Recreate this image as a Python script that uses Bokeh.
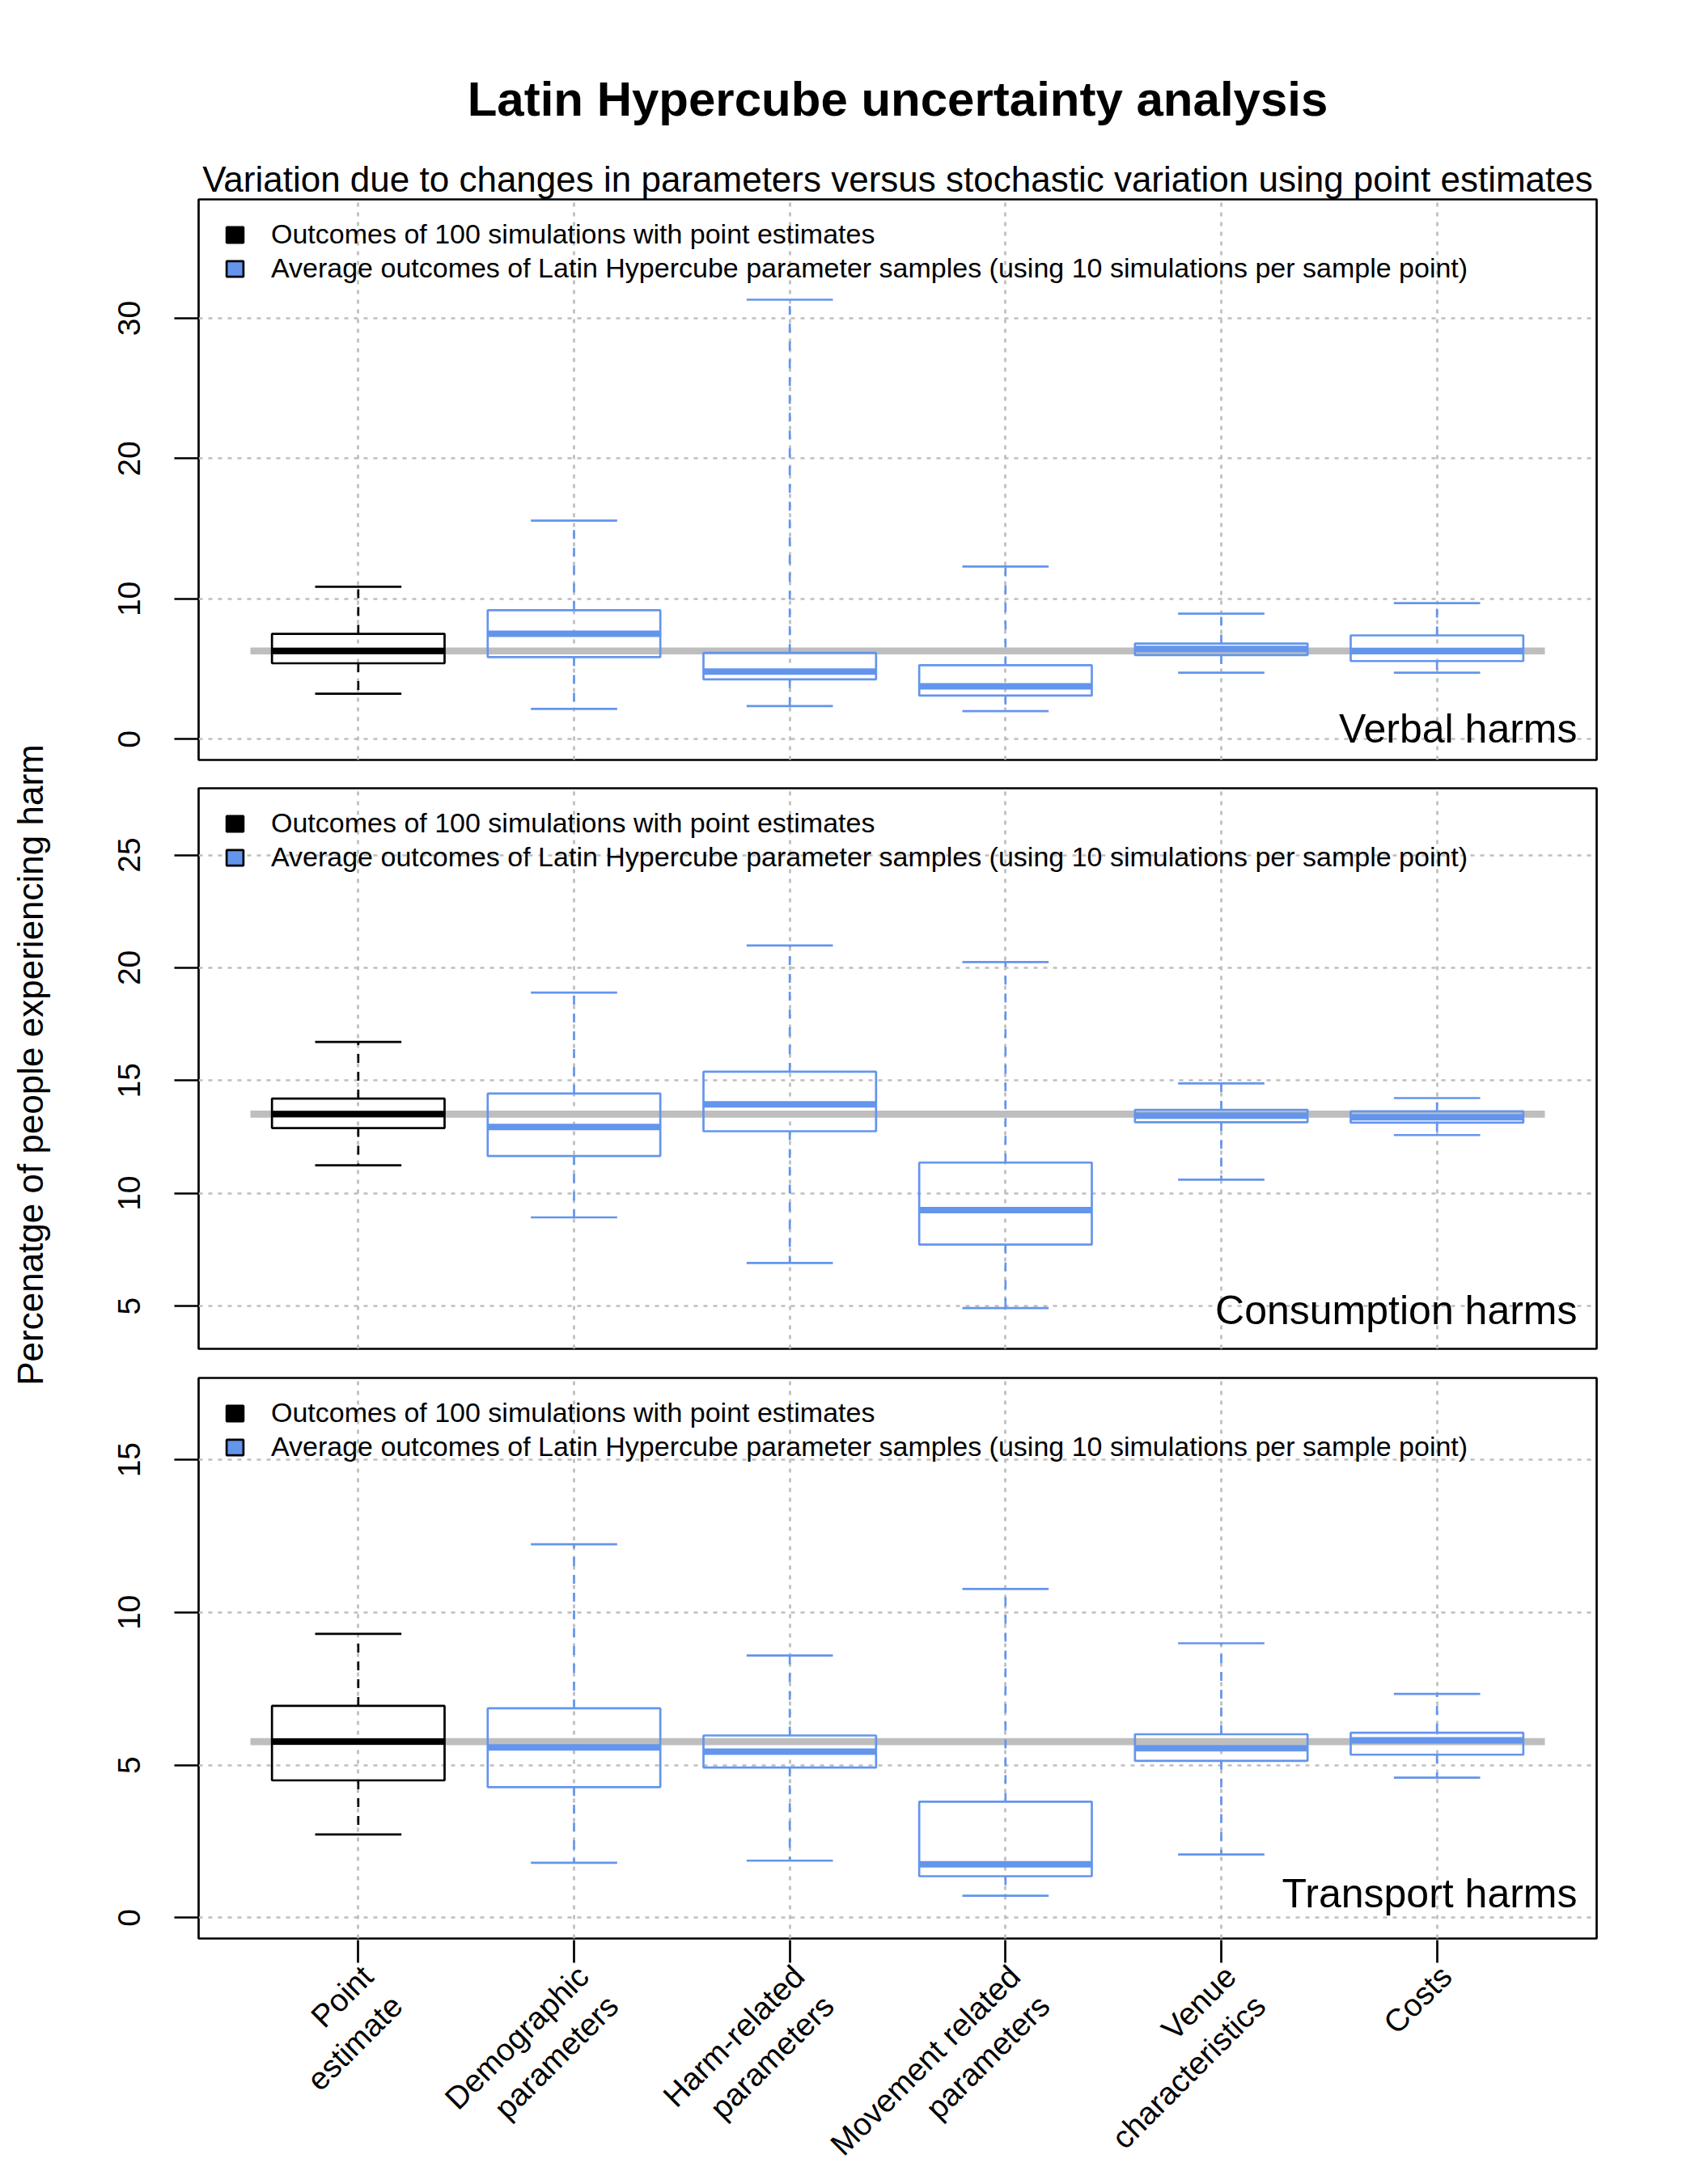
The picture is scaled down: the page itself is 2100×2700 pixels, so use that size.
import math
import numpy as np
from bokeh.plotting import figure
from bokeh.models import (FixedTicker, Range1d, Legend, LegendItem, Label, Title,
                          ColumnDataSource)
from bokeh.core.properties import value
from bokeh.layouts import column, row
from bokeh.embed import file_html
from bokeh.resources import INLINE

# ---------------- data ----------------
categories = ["Point\nestimate", "Demographic\nparameters", "Harm-related\nparameters",
              "Movement related\nparameters", "Venue\ncharacteristics", "Costs"]

verbal_lower = [3.24, 2.16, 2.36, 2.00, 4.74, 4.74]
verbal_q1 = [5.41, 5.85, 4.27, 3.11, 5.99, 5.57]
verbal_med = [6.29, 7.51, 4.82, 3.77, 6.43, 6.27]
verbal_q3 = [7.51, 9.20, 6.15, 5.27, 6.82, 7.40]
verbal_upper = [10.87, 15.58, 31.33, 12.31, 8.95, 9.70]

consumption_lower = [11.24, 8.93, 6.91, 4.91, 10.60, 12.58]
consumption_q1 = [12.89, 11.65, 12.75, 7.72, 13.15, 13.13]
consumption_med = [13.51, 12.94, 13.94, 9.25, 13.44, 13.37]
consumption_q3 = [14.20, 14.42, 15.39, 11.36, 13.70, 13.63]
consumption_upper = [16.71, 18.90, 20.99, 20.25, 14.87, 14.22]

transport_lower = [2.73, 1.80, 1.87, 0.72, 2.07, 4.59]
transport_q1 = [4.50, 4.28, 4.92, 1.36, 5.14, 5.34]
transport_med = [5.77, 5.58, 5.44, 1.75, 5.55, 5.81]
transport_q3 = [6.94, 6.86, 5.97, 3.80, 6.01, 6.06]
transport_upper = [9.30, 12.23, 8.59, 10.77, 8.99, 7.33]

verbal_ticks = [0, 10, 20, 30]
consumption_ticks = [5, 10, 15, 20, 25]
transport_ticks = [0, 5, 10, 15]

panel_names = ["Verbal harms", "Consumption harms", "Transport harms"]
legend_labels = ["Outcomes of 100 simulations with point estimates",
                 "Average outcomes of Latin Hypercube parameter samples (using 10 simulations per sample point)"]
main_title = "Latin Hypercube uncertainty analysis"
sub_title = "Variation due to changes in parameters versus stochastic variation using point estimates"
y_title = "Percenatge of people experiencing harm"

# ---------------- style ----------------
FONT = "Liberation Sans"
BLUE = "#6495ED"
GREY = "#BEBEBE"
LW = 2.7
FRAME_W, FRAME_H = 1728, 693
X_LO, X_HI = 0.26, 6.74
YLAB_W = 80
LEFT = 245 - YLAB_W
RIGHT = 90
LAB_H = 280
XPX = (X_HI - X_LO) / FRAME_W


def make_panel(lower, q1, med, q3, upper, yrange, yticks, name, label_px,
               top_border, bottom_border):
    n = len(categories)
    xs = np.arange(1, n + 1)
    colors = ["black"] + [BLUE] * (n - 1)
    src = ColumnDataSource(dict(
        x=xs, left=xs - 0.4, right=xs + 0.4, sl=xs - 0.2, sr=xs + 0.2,
        lower=lower, q1=q1, med=med, q3=q3, upper=upper, color=colors))

    p = figure(frame_width=FRAME_W, frame_height=FRAME_H,
               x_range=Range1d(X_LO, X_HI), y_range=Range1d(*yrange),
               output_backend="svg", toolbar_location=None, title=None,
               min_border_left=LEFT, min_border_right=RIGHT,
               min_border_top=top_border, min_border_bottom=bottom_border)
    p.background_fill_color = "white"
    p.border_fill_color = "white"
    p.outline_line_color = "black"
    p.outline_line_width = LW

    for g in (p.xgrid, p.ygrid):
        g.grid_line_color = GREY
        g.grid_line_dash = "5 7"
        g.grid_line_width = LW

    # reference line at the point-estimate median
    p.segment(x0=[0.5], x1=[n + 0.5], y0=[med[0]], y1=[med[0]],
              line_color=GREY, line_width=8.7, line_cap="butt")

    # whiskers
    p.segment(x0="x", x1="x", y0="q3", y1="upper", source=src, line_color="color",
              line_width=LW, line_dash="11 11", line_cap="butt")
    p.segment(x0="x", x1="x", y0="q1", y1="lower", source=src, line_color="color",
              line_width=LW, line_dash="11 11", line_cap="butt")
    # staples
    p.segment(x0="sl", x1="sr", y0="upper", y1="upper", source=src, line_color="color",
              line_width=LW, line_cap="butt")
    p.segment(x0="sl", x1="sr", y0="lower", y1="lower", source=src, line_color="color",
              line_width=LW, line_cap="butt")
    # boxes
    p.quad(left="left", right="right", bottom="q1", top="q3", source=src,
           fill_color=None, line_color="color", line_width=LW)
    # medians
    p.segment(x0="left", x1="right", y0="med", y1="med", source=src, line_color="color",
              line_width=8, line_cap="butt")

    # legend: hidden proxy renderers that only supply the filled squares
    r_pe = p.vbar(x=[xs[0]], bottom=[q1[0]], top=[q3[0]], width=0.8,
                  fill_color="black", line_color="black", line_width=LW, visible=False)
    r_lh = p.vbar(x=[xs[1]], bottom=[q1[1]], top=[q3[1]], width=0.8,
                  fill_color=BLUE, line_color="black", line_width=LW, visible=False)
    leg = Legend(items=[LegendItem(label=legend_labels[0], renderers=[r_pe]),
                        LegendItem(label=legend_labels[1], renderers=[r_lh])],
                 location=(32, 588), padding=0, margin=0, spacing=3,
                 glyph_width=26, glyph_height=24, label_standoff=32,
                 label_text_font=FONT, label_text_font_size="34px",
                 label_text_color="black", click_policy="none",
                 inactive_fill_alpha=0,
                 border_line_color=None, background_fill_alpha=0)
    p.add_layout(leg)

    # panel name (bottom right)
    ylo, yhi = yrange
    ypx = (yhi - ylo) / FRAME_H
    p.add_layout(Label(x=X_HI - 24 * XPX, y=ylo + label_px * ypx, text=name,
                       text_align="right", text_baseline="alphabetic",
                       text_font=FONT, text_font_size="50px", text_color="black"))

    # y axis
    p.yaxis.ticker = FixedTicker(ticks=yticks)
    p.yaxis.major_label_orientation = "vertical"
    p.yaxis.major_label_text_font = FONT
    p.yaxis.major_label_text_font_size = "39px"
    p.yaxis.major_label_text_color = "black"
    p.yaxis.major_label_standoff = 42
    p.yaxis.major_tick_in = 0
    p.yaxis.major_tick_out = 30
    p.yaxis.major_tick_line_width = LW
    p.yaxis.major_tick_line_color = "black"
    p.yaxis.minor_tick_line_color = None
    p.yaxis.axis_line_color = None

    p.xaxis.ticker = FixedTicker(ticks=list(xs))
    p.xaxis.visible = False
    return p


p1 = make_panel(verbal_lower, verbal_q1, verbal_med, verbal_q3, verbal_upper,
                (-1.48, 38.48), verbal_ticks, panel_names[0], 39, 246, 17)
p1.add_layout(Title(text=sub_title, align="center", text_font=FONT,
                    text_font_size="44px", text_font_style="normal",
                    text_color="black", standoff=2), "above")
p1.add_layout(Title(text=main_title, align="center", text_font=FONT,
                    text_font_size="60px", text_font_style="bold",
                    text_color="black", standoff=75), "above")

p2 = make_panel(consumption_lower, consumption_q1, consumption_med, consumption_q3,
                consumption_upper, (3.1, 27.96), consumption_ticks, panel_names[1], 48,
                18, 18)
p3 = make_panel(transport_lower, transport_q1, transport_med, transport_q3,
                transport_upper, (-0.68, 17.68), transport_ticks, panel_names[2], 56,
                18, 2)

# category axis strip under the bottom panel (ticks + rotated labels)
xs_all = np.arange(1, len(categories) + 1)
plab = figure(frame_width=FRAME_W, frame_height=LAB_H,
              x_range=Range1d(X_LO, X_HI), y_range=Range1d(0, LAB_H),
              output_backend="svg", toolbar_location=None, title=None,
              x_axis_location="above", y_axis_location=None,
              min_border_left=LEFT, min_border_right=RIGHT,
              min_border_top=0, min_border_bottom=0)
plab.outline_line_color = None
plab.grid.visible = False
plab.xaxis.ticker = FixedTicker(ticks=list(xs_all))
plab.xaxis.major_label_text_font_size = "0px"
plab.xaxis.major_label_text_color = None
plab.xaxis.major_label_standoff = 0
plab.xaxis.major_tick_in = 28
plab.xaxis.major_tick_out = 0
plab.xaxis.major_tick_line_width = LW
plab.xaxis.major_tick_line_color = "black"
plab.xaxis.minor_tick_line_color = None
plab.xaxis.axis_line_color = None
lab_src = ColumnDataSource(dict(x=xs_all - 4 * XPX, y=[LAB_H - 23] * len(categories),
                                text=categories))
plab.text(x="x", y="y", text="text", source=lab_src, angle=math.pi / 4,
          text_align="right", text_baseline="top", text_font=value(FONT),
          text_font_size="39px", text_color="black", text_line_height=1.2)

TOTAL_H = 956 + 729 + 713 + LAB_H
ylab = figure(frame_width=YLAB_W, frame_height=TOTAL_H, x_range=Range1d(0, YLAB_W),
              y_range=Range1d(0, TOTAL_H), output_backend="svg", toolbar_location=None,
              title=None, min_border_left=0, min_border_right=0, min_border_top=0,
              min_border_bottom=0)
ylab.axis.visible = False
ylab.grid.visible = False
ylab.outline_line_color = None
ylab.add_layout(Label(x=37, y=TOTAL_H - 1316, text=y_title, angle=math.pi / 2,
                      text_align="center", text_baseline="middle", text_font=FONT,
                      text_font_size="44px", text_color="black"))

layout = row(ylab, column(p1, p2, p3, plab, spacing=0), spacing=0)
open("out.html", "w").write(file_html(layout, INLINE))
